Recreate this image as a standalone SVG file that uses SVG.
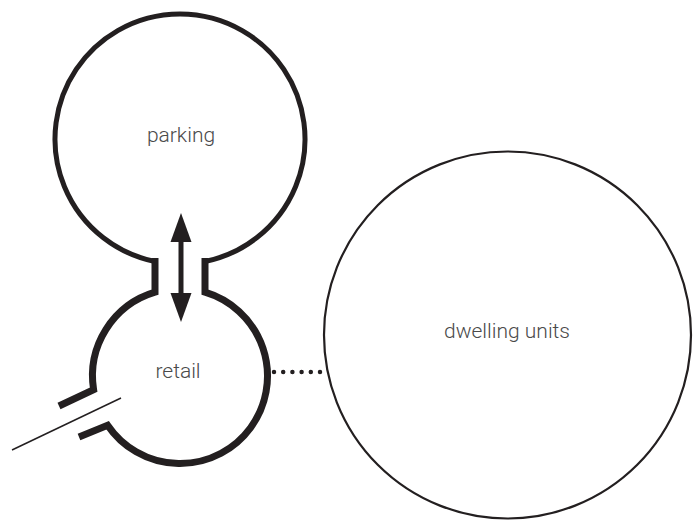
<svg xmlns="http://www.w3.org/2000/svg" width="694" height="521" viewBox="0 0 694 521">
<style>
  .outline { fill: none; stroke: #231f20; stroke-linejoin: miter; }
  .label { font-family: Roboto, "Liberation Sans", sans-serif; font-weight: 300; font-size: 21px; fill: #4a4a4a; text-anchor: middle; }
</style>
<rect width="694" height="521" fill="#ffffff"/>
<g id="parking">
  <path class="outline" stroke-width="5" d="M155,261.5 A125,125 0 1 1 205,261.5"/>
  <text class="label" x="181" y="142">parking</text>
</g>
<g id="retail">
  <path class="outline" stroke-width="7" d="M155,258 L155,292.2 A87.5,87.5 0 0 0 93.6,389.7 L59,406"/>
  <path class="outline" stroke-width="7" d="M205,258 L205,292.2 A87.5,87.5 0 1 1 107.6,425.2 L79,437"/>
  <text class="label" x="178" y="378">retail</text>
</g>
<g id="dwelling">
  <circle class="outline" stroke-width="2.2" cx="507.5" cy="335" r="183.5"/>
  <text class="label" x="507" y="338">dwelling units</text>
</g>
<g id="connectors">
  <line x1="181" y1="236" x2="181" y2="300" stroke="#231f20" stroke-width="5"/>
  <polygon points="181,213 170.5,242 191.5,242" fill="#231f20"/>
  <polygon points="181,322 170.5,293 191.5,293" fill="#231f20"/>
  <path d="M274,372 L320,372" stroke="#231f20" stroke-width="4.5" stroke-linecap="round" stroke-dasharray="0 9.2" fill="none"/>
  <line x1="12" y1="450" x2="121" y2="398" stroke="#231f20" stroke-width="1.5"/>
</g>
</svg>
